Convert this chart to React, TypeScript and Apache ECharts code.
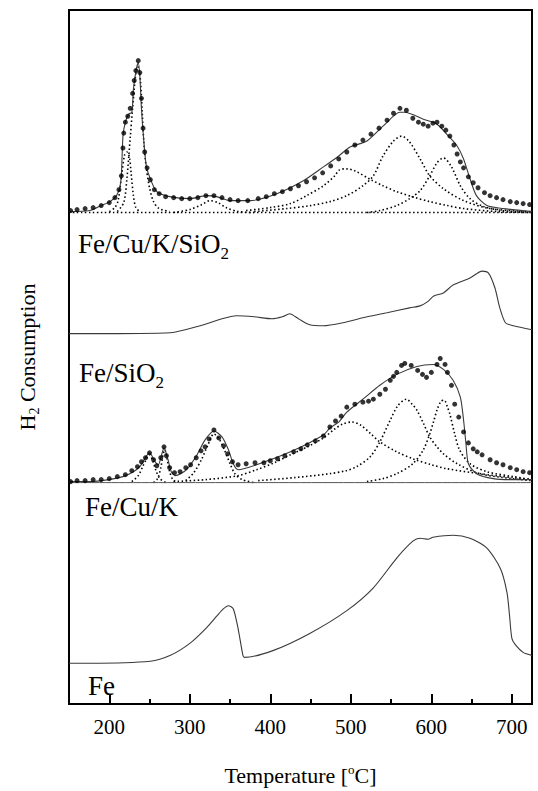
import React, { useEffect, useRef } from "react";
import * as echarts from "echarts";

type P = [number, number];

// ---- X axis ----
const xMin = 150;
const xMax = 725;
const majorTicks = [200, 300, 400, 500, 600, 700];

// ---- Fe/Cu/K/SiO2 (top panel), arbitrary units ----
const fckSiBaseline: P[] = [[150, 495], [725, 495]];
const fckSiFit: P[] = [[150, 496], [176, 497], [190, 502], [201, 506], [209, 512], [213, 520], [215, 532], [217, 572], [220, 586], [224, 594], [228, 596], [230, 619], [233, 637], [236, 646], [238, 632], [240, 599], [243, 566], [246, 542], [251, 529], [259, 516], [275, 511], [300, 509], [321, 512], [333, 511], [350, 507], [375, 507], [408, 514], [441, 527], [466, 541], [485, 552], [499, 561], [520, 567], [540, 582], [561, 596], [567, 596], [590, 589], [607, 584], [619, 574], [632, 562], [640, 549], [648, 529], [656, 512], [669, 502], [689, 499], [725, 496]];
const fckSiDots: P[] = [[152, 497], [160, 498], [170, 499], [180, 500], [190, 502], [200, 505], [207, 510], [212, 518], [215, 532], [217, 560], [218, 575], [220, 586], [223, 592], [226, 600], [229, 615], [231, 628], [233, 638], [236, 648], [238, 636], [240, 610], [242, 580], [244, 556], [247, 540], [251, 528], [256, 518], [262, 514], [270, 511], [280, 510], [290, 509], [300, 509], [310, 510], [320, 512], [330, 512], [340, 510], [350, 508], [360, 507], [372, 507], [385, 509], [395, 511], [405, 514], [415, 516], [425, 519], [435, 522], [445, 526], [455, 530], [465, 535], [475, 542], [485, 549], [495, 556], [505, 563], [515, 568], [525, 574], [535, 580], [545, 588], [553, 595], [561, 600], [569, 598], [577, 590], [584, 586], [590, 584], [596, 582], [602, 585], [607, 586], [613, 582], [618, 578], [623, 572], [628, 563], [632, 554], [636, 546], [640, 540], [646, 531], [652, 525], [658, 520], [666, 515], [673, 512], [681, 510], [689, 508], [698, 506], [706, 505], [714, 504], [722, 503]];
const fckSiPeak1: P[] = [[200, 496], [207, 500], [211, 507], [215, 530], [219, 553], [222, 556], [225, 551], [227, 536], [230, 512], [233, 500], [238, 496]];
const fckSiPeak2: P[] = [[210, 496], [218, 505], [222, 530], [226, 570], [229, 600], [232, 628], [235, 642], [237, 640], [239, 625], [241, 595], [243, 565], [246, 540], [250, 520], [255, 506], [262, 499], [275, 496]];
const fckSiPeak3: P[] = [[280, 495], [300, 498], [315, 503], [325, 507], [335, 505], [345, 500], [360, 496], [380, 495]];
const fckSiPeak4: P[] = [[370, 497], [400, 500], [425, 504], [445, 512], [466, 522], [480, 532], [486, 538], [495, 539], [505, 537], [525, 528], [540, 522], [557, 516], [580, 510], [598, 506], [620, 502], [640, 499], [681, 496], [725, 495]];
const fckSiPeak5: P[] = [[380, 496], [420, 499], [450, 502], [474, 506], [495, 512], [515, 522], [528, 532], [540, 552], [553, 567], [563, 572], [573, 566], [586, 549], [598, 532], [615, 519], [640, 507], [673, 499], [723, 496]];
const fckSiPeak6: P[] = [[520, 495], [536, 497], [557, 502], [573, 509], [586, 517], [598, 532], [607, 545], [615, 550], [625, 541], [636, 522], [648, 509], [665, 501], [689, 497], [725, 495]];

// ---- Fe/SiO2 ----
const feSi: P[] = [[150, 373], [176, 373], [276, 374], [313, 381], [340, 388], [358, 391], [380, 390], [402, 388], [415, 390], [424, 393], [435, 388], [449, 382], [466, 381], [490, 384], [515, 389], [545, 394], [573, 399], [586, 401], [595, 405], [603, 411], [615, 414], [627, 422], [648, 429], [663, 436], [671, 434], [679, 419], [685, 399], [692, 384], [702, 381], [725, 377]];

// ---- Fe/Cu/K ----
const fckBaseline: P[] = [[150, 223], [725, 223]];
const fckFit: P[] = [[150, 224], [176, 224], [200, 226], [217, 229], [230, 234], [238, 239], [244, 247], [250, 253], [257, 244], [261, 241], [265, 251], [268, 258], [273, 246], [277, 234], [282, 230], [296, 236], [309, 251], [319, 266], [330, 275], [340, 269], [348, 256], [354, 242], [360, 236], [383, 241], [425, 254], [466, 271], [474, 278], [485, 284], [495, 294], [515, 307], [536, 321], [557, 332], [582, 340], [602, 342], [615, 337], [627, 326], [636, 309], [640, 286], [643, 262], [646, 242], [656, 232], [677, 227], [700, 226], [725, 226]];
const fckDots: P[] = [[152, 224], [160, 225], [170, 225], [180, 226], [190, 226], [200, 227], [210, 229], [220, 231], [228, 235], [235, 239], [240, 244], [245, 248], [250, 253], [255, 246], [259, 240], [264, 248], [268, 259], [271, 250], [275, 238], [281, 233], [288, 234], [295, 238], [301, 241], [308, 248], [314, 255], [319, 259], [324, 267], [330, 276], [336, 268], [342, 260], [347, 252], [353, 244], [360, 241], [370, 242], [381, 243], [392, 243], [400, 245], [409, 247], [418, 250], [429, 254], [438, 257], [446, 261], [456, 265], [466, 270], [474, 279], [481, 285], [488, 290], [495, 299], [505, 302], [515, 304], [522, 305], [528, 307], [536, 312], [543, 317], [549, 326], [553, 330], [557, 334], [563, 341], [567, 343], [575, 341], [583, 336], [589, 332], [594, 329], [600, 334], [607, 342], [611, 348], [617, 342], [620, 334], [625, 321], [629, 302], [634, 289], [640, 274], [646, 263], [652, 257], [657, 254], [663, 251], [673, 246], [681, 243], [689, 241], [698, 238], [706, 236], [714, 234], [722, 233]];
const fckPeak1: P[] = [[228, 224], [236, 230], [242, 240], [247, 248], [250, 251], [254, 245], [258, 235], [263, 227], [270, 223]];
const fckPeak2: P[] = [[255, 223], [260, 227], [264, 238], [267, 252], [269, 256], [272, 246], [275, 234], [279, 226], [285, 223]];
const fckPeak3: P[] = [[295, 225], [305, 233], [315, 247], [322, 260], [330, 272], [337, 266], [343, 256], [350, 242], [356, 232], [365, 226], [380, 223]];
const fckPeak4: P[] = [[280, 224], [320, 226], [360, 230], [383, 236], [405, 243], [425, 251], [446, 259], [466, 268], [480, 277], [490, 282], [501, 284], [512, 281], [525, 272], [536, 264], [557, 254], [577, 247], [600, 241], [619, 237], [660, 232], [700, 228], [725, 226]];
const fckPeak5: P[] = [[385, 225], [430, 228], [474, 232], [494, 235], [507, 239], [524, 249], [536, 264], [549, 286], [558, 300], [569, 307], [576, 302], [582, 296], [590, 283], [598, 269], [607, 259], [615, 252], [632, 242], [660, 232], [700, 227], [725, 225]];
const fckPeak6: P[] = [[520, 224], [540, 227], [557, 232], [577, 242], [590, 256], [598, 272], [603, 285], [607, 296], [612, 305], [616, 306], [620, 299], [623, 292], [629, 272], [635, 256], [648, 242], [669, 234], [702, 229], [725, 226]];

// ---- Fe ----
const fe: P[] = [[150, 41], [176, 41], [251, 43], [276, 49], [300, 61], [321, 77], [334, 89], [342, 96], [348, 99], [354, 96], [360, 76], [366, 49], [368, 47], [404, 54], [449, 71], [495, 94], [528, 117], [557, 147], [577, 164], [586, 167], [596, 166], [602, 168], [627, 170], [648, 167], [669, 157], [686, 136], [694, 112], [697, 90], [700, 66], [704, 60], [714, 52], [725, 49]];

const sampleLabels = [
  { text: "Fe/Cu/K/SiO{sub|2}", left: 78, top: 226 },
  { text: "Fe/SiO{sub|2}", left: 79, top: 355 },
  { text: "Fe/Cu/K", left: 85, top: 492 },
  { text: "Fe", left: 88, top: 671 },
];

const FONT = "'Liberation Serif', 'Times New Roman', serif";

function solid(name: string, data: P[], color = "#3a3a3a", width = 1.1) {
  return {
    name, type: "line", data, showSymbol: false, symbol: "none", smooth: 0.25,
    lineStyle: { color, width, type: "solid" }, z: 3, silent: true,
  };
}
function dotted(name: string, data: P[]) {
  return {
    name, type: "line", data, showSymbol: false, symbol: "none", smooth: 0.3,
    lineStyle: { color: "#000", width: 1.6, type: [1.5, 2.5] }, z: 2, silent: true,
  };
}
function dots(name: string, data: P[]) {
  return {
    name, type: "scatter", data, symbol: "circle", symbolSize: 5,
    itemStyle: { color: "#000" }, z: 4, silent: true,
  };
}

export default function App() {
  const ref = useRef<HTMLDivElement>(null);
  useEffect(() => {
    if (!ref.current) return;
    const chart = echarts.init(ref.current, null, { renderer: "svg" });
    const subRich = { sub: { fontSize: 17, fontFamily: FONT, color: "#000", verticalAlign: "bottom", lineHeight: 36 } };
    chart.setOption({
      animation: false,
      backgroundColor: "#fff",
      title: sampleLabels.map((l) => ({
        text: l.text, left: l.left, top: l.top, padding: 0,
        textStyle: { fontSize: 27, fontWeight: "normal", fontFamily: FONT, color: "#000", lineHeight: 30, rich: subRich },
      })),
      grid: { left: 69, top: 10, width: 463, height: 699, show: true, borderColor: "#000", borderWidth: 2, containLabel: false },
      xAxis: [
        {
          type: "value", min: xMin, max: xMax, interval: 50, position: "bottom",
          name: "Temperature [{sup|o}C]", nameLocation: "middle", nameGap: 59,
          nameTextStyle: {
            fontSize: 22, fontFamily: FONT, color: "#000",
            rich: { sup: { fontSize: 13, fontFamily: FONT, color: "#000", verticalAlign: "top", lineHeight: 24 } },
          },
          axisLine: { lineStyle: { color: "#000", width: 2 } },
          axisTick: { inside: true, length: 5, lineStyle: { color: "#000", width: 2 } },
          axisLabel: {
            margin: 12, fontSize: 21, fontFamily: FONT, color: "#000",
            formatter: (v: number) => (majorTicks.includes(v) ? String(v) : ""),
          },
          splitLine: { show: false },
        },
        {
          type: "value", min: xMin, max: xMax, position: "bottom",
          axisLine: { show: false },
          axisTick: { inside: true, length: 10, customValues: majorTicks, lineStyle: { color: "#000", width: 2 } },
          axisLabel: { show: false },
          splitLine: { show: false },
        },
      ],
      yAxis: {
        type: "value", min: 0, max: 699,
        name: "H{sub|2} Consumption", nameLocation: "middle", nameGap: 28,
        nameTextStyle: {
          fontSize: 22, fontFamily: FONT, color: "#000",
          rich: { sub: { fontSize: 14, fontFamily: FONT, color: "#000", verticalAlign: "bottom", lineHeight: 28 } },
        },
        axisLine: { show: true, lineStyle: { color: "#000", width: 2 } },
        axisTick: { show: false },
        axisLabel: { show: false },
        splitLine: { show: false },
      },
      series: [
        dotted("Fe/Cu/K/SiO2 baseline", fckSiBaseline),
        dotted("Fe/Cu/K/SiO2 peak 1", fckSiPeak1),
        dotted("Fe/Cu/K/SiO2 peak 2", fckSiPeak2),
        dotted("Fe/Cu/K/SiO2 peak 3", fckSiPeak3),
        dotted("Fe/Cu/K/SiO2 peak 4", fckSiPeak4),
        dotted("Fe/Cu/K/SiO2 peak 5", fckSiPeak5),
        dotted("Fe/Cu/K/SiO2 peak 6", fckSiPeak6),
        solid("Fe/Cu/K/SiO2 fit", fckSiFit),
        dots("Fe/Cu/K/SiO2", fckSiDots),
        solid("Fe/SiO2", feSi),
        solid("Fe/Cu/K baseline", fckBaseline, "#555", 1),
        dotted("Fe/Cu/K peak 1", fckPeak1),
        dotted("Fe/Cu/K peak 2", fckPeak2),
        dotted("Fe/Cu/K peak 3", fckPeak3),
        dotted("Fe/Cu/K peak 4", fckPeak4),
        dotted("Fe/Cu/K peak 5", fckPeak5),
        dotted("Fe/Cu/K peak 6", fckPeak6),
        solid("Fe/Cu/K fit", fckFit),
        dots("Fe/Cu/K", fckDots),
        solid("Fe", fe),
      ],
    });
    return () => chart.dispose();
  }, []);
  return (
    <div
      ref={ref}
      style={{ position: "fixed", left: 0, top: 0, width: 538, height: 791, background: "#fff" }}
    />
  );
}
